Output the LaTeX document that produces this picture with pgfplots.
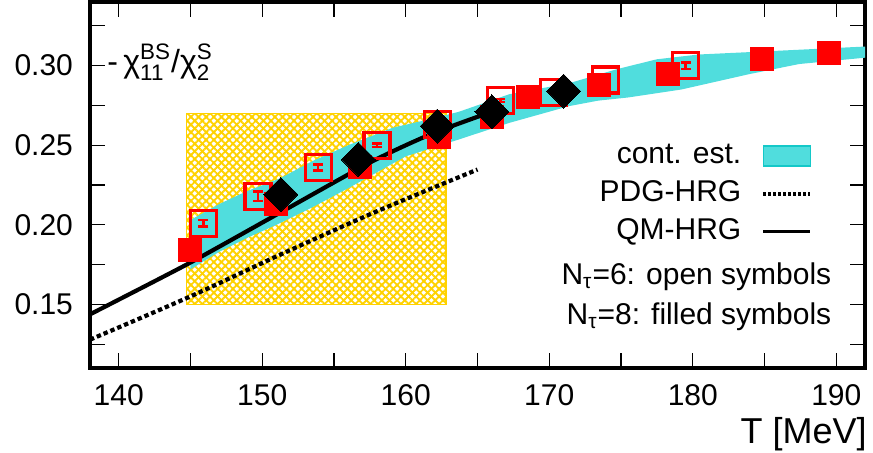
\documentclass[border=0pt]{standalone}
\usepackage{pgfplots}
\pgfplotsset{compat=1.18}
\usepackage{amsmath}
\usepackage{fontspec}
\setmainfont{Liberation Sans}
\usetikzlibrary{patterns.meta}
\definecolor{bandcyan}{RGB}{80,221,221}
\definecolor{bandedge}{RGB}{20,200,200}
\definecolor{hatch}{RGB}{255,210,0}
\definecolor{myred}{RGB}{255,0,0}
\begin{document}
\begin{tikzpicture}
\useasboundingbox (-45pt,-42.5pt) rectangle (391.5pt,184pt);
\begin{axis}[
  scale only axis, width=387.5pt, height=183pt,
  xmin=138, xmax=192, ymin=0.11, ymax=0.34,
  axis line style={line width=1.6pt},
  xtick={140,150,...,190}, minor xtick={145,155,165,175,185},
  ytick={0.15,0.2,0.25,0.3}, minor ytick={0.125,0.175,0.225,0.275,0.325},
  tick style={line width=0.6pt, black},
  major tick length=7.5pt, minor tick length=7.5pt,
  tick align=inside,
  /pgf/number format/assume math mode=true,
  ticklabel style={font=\fontsize{15}{17}\selectfont},
  yticklabel style={/pgf/number format/.cd, fixed, fixed zerofill, precision=2, /tikz/.cd, xshift=-5pt},
  xticklabel style={/pgf/number format/.cd, fixed, precision=0, /tikz/.cd, yshift=-4.5pt},
  xlabel={T [MeV]},
  xlabel style={font=\fontsize{18}{20}\selectfont, at={(rel axis cs:1,0)}, anchor=north east, inner sep=0pt, yshift=-24.3pt, xshift=1pt},
  legend plot pos=right,
  legend cell align=right,
  legend style={draw=none, fill=none, inner sep=0pt, outer sep=0pt, row sep=5pt,
    nodes={inner sep=0pt, text height=11pt, text depth=3pt},
    font=\fontsize{15}{17}\selectfont,
    at={(rel axis cs:0.9316,0.6175)}, anchor=north east},
]
% hatched region
\addplot[forget plot, draw=hatch, line width=0.6pt,
  pattern={Lines[angle=45,distance=2.7pt,line width=0.95pt]}, pattern color=hatch,
  postaction={pattern={Lines[angle=-45,distance=2.7pt,line width=0.95pt]}, pattern color=hatch}]
  coordinates {(144.7,0.15) (162.8,0.15) (162.8,0.27) (144.7,0.27)} -- cycle;
% continuum estimate band
\addplot[fill=bandcyan, draw=none,
  legend image code/.code={\path (0pt,0pt); \filldraw[fill=bandcyan, draw=bandedge, line width=0.8pt] (10pt,-5pt) rectangle (33.5pt,5pt);}]
  coordinates {
  (145.0,0.203) (147.0,0.213) (148.9,0.221) (151.2,0.229) (153.5,0.240) (156.0,0.250)
  (159.1,0.261) (161.5,0.266) (163.7,0.271) (167.2,0.282) (171.4,0.289) (174.8,0.298)
  (177.5,0.304) (180.4,0.307) (185.1,0.309) (192.0,0.312)
  (192.0,0.305) (187.4,0.301) (183.9,0.2946) (179.2,0.285) (175.5,0.280) (173.4,0.278)
  (171.4,0.2746) (167.2,0.264) (163.7,0.2536) (160.0,0.243) (158.0,0.233) (156.0,0.223)
  (153.5,0.211) (151.0,0.200) (149.0,0.192) (147.0,0.183) (145.0,0.172)
  } -- cycle;
\addlegendentry{cont. est.}
% PDG-HRG
\addplot[black, line width=2.1pt, dash pattern=on 2.2pt off 1.5pt, smooth,
  legend image code/.code={\path (0pt,0pt); \draw[black, line width=1.6pt, dash pattern=on 1.5pt off 1pt] (10pt,0pt) -- (33.5pt,0pt);}]
  coordinates {(138,0.1278) (145,0.155) (151.2,0.181) (158,0.2085) (165,0.2347)};
\addlegendentry{PDG-HRG}
% QM-HRG
\addplot[black, line width=2.1pt, smooth, tension=0.4,
  legend image code/.code={\path (0pt,0pt); \draw[black, line width=1.5pt] (10pt,0pt) -- (33.5pt,0pt);}]
  coordinates {(138,0.1437) (144.9,0.1758) (151.2,0.2074) (157.7,0.240) (161.9,0.2575) (166.3,0.272)};
\addlegendentry{QM-HRG}
% N_tau = 6 open squares
\addplot[forget plot, only marks, myred, mark=square, mark size=6.5pt,
  mark options={draw=myred, line width=1.6pt},
  error bars/.cd, y dir=both, y explicit,
  error bar style={line width=1.2pt, myred},
  error mark options={rotate=90, mark size=2.5pt, line width=1.2pt, myred}]
  table[x=x, y=y, y error=e] {
  x     y     e
  145.9 0.201 0.002
  149.7 0.218 0.003
  153.9 0.236 0.002
  158.0 0.250 0.001
  162.2 0.263 0.001
  166.6 0.278 0.001
  170.3 0.283 0.001
  173.9 0.291 0.001
  179.5 0.300 0.002
  };
% N_tau = 8 filled squares
\addplot[forget plot, only marks, mark=square*, mark size=5.75pt,
  mark options={draw=myred, fill=myred, line width=0pt}]
  coordinates {(145.0,0.184) (150.95,0.213) (156.8,0.236) (162.3,0.255) (166.0,0.268)
  (168.5,0.280) (173.5,0.288) (178.3,0.295) (184.8,0.304) (189.5,0.308)};
% diamonds
\addplot[forget plot, only marks, mark=square*, mark size=6pt,
  mark options={rotate=45, draw=black, fill=black, line width=0pt}]
  coordinates {(151.3,0.219) (156.7,0.241) (162.2,0.262) (166.0,0.271) (171.0,0.284)};
% labels
\node[anchor=west, inner sep=0pt, font=\fontsize{16}{18}\selectfont] at (rel axis cs:0.022,0.835)
  {-\,χ$_{\text{11}}^{\text{BS}}$/χ$_{\text{2}}^{\text{S}}$};
\node[anchor=east, inner sep=0pt, font=\fontsize{15}{17}\selectfont] at (rel axis cs:0.957,0.25)
  {N\textsubscript{τ}=6: open symbols};
\node[anchor=east, inner sep=0pt, font=\fontsize{15}{17}\selectfont] at (rel axis cs:0.957,0.14)
  {N\textsubscript{τ}=8: filled symbols};
\end{axis}
\end{tikzpicture}
\end{document}
